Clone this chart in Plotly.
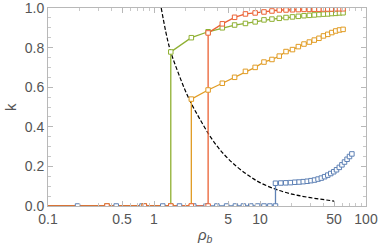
import plotly.graph_objects as go

# ---- data ----
grid_rho = [0.36, 0.81, 1.44, 2.25, 3.24, 4.41, 5.76, 7.29, 9.0, 10.9, 12.96, 15.2,
            17.6, 20.25, 23.0, 26.0, 29.2, 32.5, 36.0, 39.7, 43.6, 47.6, 51.8, 56.25, 60.8]
green_k = [0, 0, 0.778, 0.85, 0.88, 0.90, 0.914, 0.922, 0.93, 0.94, 0.944, 0.948,
           0.952, 0.955, 0.958, 0.961, 0.963, 0.965, 0.967, 0.969, 0.970, 0.972, 0.973, 0.975, 0.976]
orange_k = [0, 0, 0, 0.54, 0.586, 0.62, 0.65, 0.68, 0.70, 0.727, 0.74, 0.757,
            0.78, 0.79, 0.805, 0.818, 0.828, 0.838, 0.847, 0.859, 0.867, 0.876, 0.884, 0.889, 0.892]
red_k = [0, 0, 0, 0, 0.874, 0.92, 0.953, 0.97, 0.975, 0.98, 0.985, 0.99,
         0.99, 0.991, 0.992, 0.993, 0.993, 0.994, 0.994, 0.995, 0.995, 0.995, 0.996, 0.996, 0.996]

blue_rho = [0.19, 0.44, 0.77, 1.21, 1.74, 2.37, 3.1, 3.92, 4.84, 5.86, 6.97, 8.18, 9.49,
            10.9, 12.4, 14.0, 14.0, 15.7, 17.5, 19.4, 21.3, 23.4, 25.6, 27.9, 30.25, 32.7,
            35.3, 37.9, 40.7, 43.6, 46.5, 49.6, 52.7, 56.0, 59.3, 62.7, 66.3, 69.9, 73.6]
blue_k = [0, 0, 0, 0, 0, 0, 0, 0, 0, 0, 0, 0, 0, 0, 0, 0, 0.115, 0.116, 0.117, 0.118,
          0.120, 0.121, 0.123, 0.125, 0.128, 0.131, 0.136, 0.141, 0.148, 0.156, 0.164,
          0.173, 0.183, 0.195, 0.208, 0.222, 0.236, 0.25, 0.263]

dash_rho = [1.17, 1.4, 1.7, 2.1, 2.7, 3.5, 4.5, 6, 8, 10, 14, 20, 30, 50]
dash_k = [1.0, 0.80, 0.67, 0.55, 0.44, 0.34, 0.265, 0.2, 0.15, 0.118, 0.085, 0.06, 0.042, 0.025]

jump_rho = {"blue": 14.0, "orange": 2.25, "green": 1.44, "red": 3.24}

x_ticks = [0.1, 0.5, 1, 5, 10, 50, 100]
x_tick_text = ["0.1", "0.5", "1", "5", "10", "50", "100"]
x_minor = [0.2, 0.3, 0.4, 0.6, 0.7, 0.8, 0.9, 2, 3, 4, 6, 7, 8, 9, 20, 30, 40, 60, 70, 80, 90]
y_ticks = [0.0, 0.2, 0.4, 0.6, 0.8, 1.0]
y_tick_text = ["0.0", "0.2", "0.4", "0.6", "0.8", "1.0"]

colors = {"blue": "#5E81B5", "orange": "#E19C24", "green": "#8FB032", "red": "#EB6235"}


def with_doubles(xs, ks, xj):
    """insert a zero point at the jump position so the marker shows both states"""
    ox, ok = [], []
    for x, k in zip(xs, ks):
        if x == xj and k > 0 and (not ox or ox[-1] != xj):
            ox.append(x); ok.append(0)
        ox.append(x); ok.append(k)
    return ox, ok


series = {
    "blue": (blue_rho, blue_k),
    "orange": with_doubles(grid_rho, orange_k, jump_rho["orange"]),
    "green": with_doubles(grid_rho, green_k, jump_rho["green"]),
    "red": with_doubles(grid_rho, red_k, jump_rho["red"]),
}

fig = go.Figure()

fig.add_trace(go.Scatter(x=dash_rho, y=dash_k, mode="lines",
                         line=dict(color="black", width=1.2, dash="4px,2px", shape="spline"),
                         showlegend=False, hoverinfo="skip"))

order = ["blue", "orange", "green", "red"]
for name in order:
    xs, ks = series[name]
    lx = [0.1] + list(xs)
    ly = [0] + list(ks)
    fig.add_trace(go.Scatter(x=lx, y=ly, mode="lines",
                             line=dict(color=colors[name], width=1.3),
                             showlegend=False, hoverinfo="skip"))

for name in order:
    xs, ks = series[name]
    fig.add_trace(go.Scatter(x=xs, y=ks, mode="markers",
                             marker=dict(symbol="square", size=4.5, color="white",
                                         line=dict(color=colors[name], width=1)),
                             showlegend=False, hoverinfo="skip"))

FONT = "Liberation Sans, Arial"
axis_common = dict(showgrid=False, zeroline=False, showline=True, mirror="allticks",
                   linecolor="#b8b8b8", linewidth=1, ticks="inside", tickcolor="#b8b8b8",
                   automargin=False, ticklabeloverflow="allow",
                   tickfont=dict(family=FONT, size=14, color="#555555"))

fig.update_xaxes(type="log", range=[-1, 2], tickmode="array", tickvals=x_ticks,
                 ticktext=x_tick_text, ticklen=5,
                 minor=dict(tickmode="array", tickvals=x_minor, ticks="inside", ticklen=3,
                            tickcolor="#c8c8c8"),
                 **axis_common)
fig.update_yaxes(range=[0, 1], tickmode="array", tickvals=y_ticks, ticktext=y_tick_text,
                 ticklen=5,
                 minor=dict(dtick=0.05, ticks="inside", ticklen=3, tickcolor="#c8c8c8"),
                 **axis_common)

fig.add_annotation(text="k", xref="paper", yref="paper", x=(10 - 48) / 318, y=0.5,
                   textangle=-90, showarrow=False, xanchor="center", yanchor="middle",
                   font=dict(family=FONT, size=15, color="#555555"))
fig.add_annotation(text="<i>ρ</i><sub><i>b</i></sub>", xref="paper", yref="paper",
                   x=(205 - 48) / 318, y=(206 - 235) / 198, showarrow=False,
                   xanchor="center", yanchor="middle",
                   font=dict(family=FONT, size=15, color="#555555"))

fig.update_layout(width=382, height=248, margin=dict(l=48, r=16, t=8, b=42, autoexpand=False),
                  plot_bgcolor="white", paper_bgcolor="white")

fig.write_html("out.html", config={"displayModeBar": False},
               post_script="document.body.style.margin='0';document.body.style.padding='0';")
